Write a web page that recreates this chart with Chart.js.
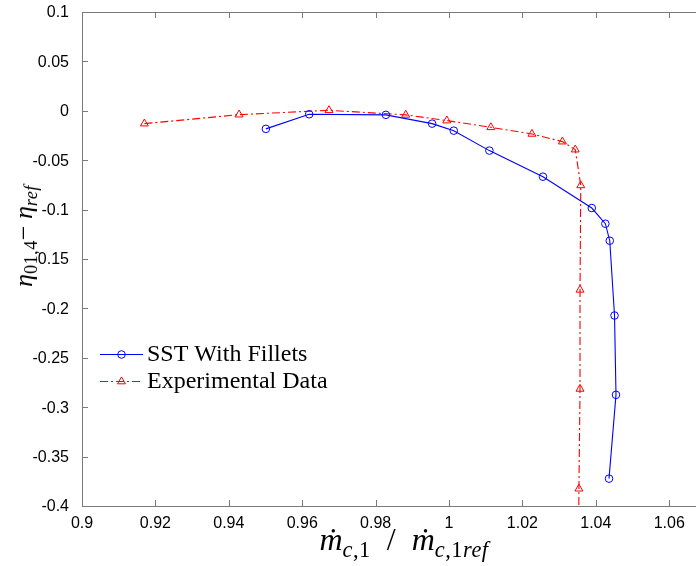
<!DOCTYPE html>
<html>
<head>
<meta charset="utf-8">
<script src="https://cdn.jsdelivr.net/npm/chart.js@4/dist/chart.umd.min.js"></script>
<style>
  html, body { margin: 0; padding: 0; background: #fff; }
  #wrap { position: relative; width: 696px; height: 566px; overflow: hidden; }
  #chart { position: absolute; left: 0; top: 0; }
  .ttl { position: absolute; font-family: "Liberation Serif", "DejaVu Serif", serif; color: #000; white-space: nowrap; line-height: 1; }
  .ttl sub { font-size: 70%; vertical-align: -0.3em; line-height: 0; letter-spacing: 0.5px; }
  #xtitle { left: 404px; top: 523px; font-size: 32px; transform: translateX(-50%); }
  #ytitle { left: 24px; top: 236px; font-size: 26px; transform: translate(-50%, -50%) rotate(-90deg); }
</style>
</head>
<body>
<div id="wrap">
  <canvas id="chart" width="696" height="566"></canvas>
  <div id="xtitle" class="ttl"><i>ṁ</i><sub><i>c</i>,1</sub>&nbsp;&nbsp;/&nbsp;&nbsp;<i>ṁ</i><sub><i>c</i>,1<i>ref</i></sub></div>
  <div id="ytitle" class="ttl"><i>η</i><sub>01,4</sub>− <i>η</i><sub><i>ref</i></sub></div>
</div>
<script>
// SST With Fillets (simulation)
const sstX = [0.9501, 0.9619, 0.9828, 0.9954, 1.0013, 1.0110, 1.0256, 1.0389, 1.0426, 1.0438, 1.0451, 1.0455, 1.0436];
const sstY = [-0.0183, -0.0035, -0.0041, -0.0130, -0.0201, -0.0403, -0.0667, -0.0984, -0.1143, -0.1315, -0.2072, -0.2875, -0.3723];
// Experimental data (last point lies below the visible range)
const expX = [0.9170, 0.9428, 0.9673, 0.9882, 0.9994, 1.0114, 1.0226, 1.0309, 1.0344, 1.0359, 1.0357, 1.0357, 1.0354, 1.0353];
const expY = [-0.0130, -0.0039, 0.0005, -0.0041, -0.0099, -0.0167, -0.0234, -0.0312, -0.0393, -0.0755, -0.1812, -0.2815, -0.3825, -0.4500];

const seriesLabels = ['SST With Fillets', 'Experimental Data'];
const xTicks = [0.9, 0.92, 0.94, 0.96, 0.98, 1, 1.02, 1.04, 1.06];
const yTicks = [0.1, 0.05, 0, -0.05, -0.1, -0.15, -0.2, -0.25, -0.3, -0.35, -0.4];
const xMin = 0.9, xMax = 1.0673;
const yMin = -0.4, yMax = 0.1;

const toPts = (xs, ys) => xs.map((x, i) => ({ x: x, y: ys[i] }));
const axisColor = '#7a7a7a';
const dashDot = [8, 3, 2, 3];

function drawMarker(ctx, style, x, y, r, color) {
    ctx.save();
    ctx.strokeStyle = color;
    ctx.lineWidth = 1;
    ctx.setLineDash([]);
    ctx.beginPath();
    if (style === 'circle') {
        ctx.arc(x, y, r, 0, Math.PI * 2);
    } else {
        for (let k = 0; k < 3; k++) {
            const a = k * 2 * Math.PI / 3;
            const px = x + Math.sin(a) * r, py = y - Math.cos(a) * r;
            if (k === 0) ctx.moveTo(px, py); else ctx.lineTo(px, py);
        }
        ctx.closePath();
    }
    ctx.stroke();
    ctx.restore();
}

// frame, inward ticks and the in-plot legend
const framePlugin = {
    id: 'frame',
    afterDraw(chart) {
        const ctx = chart.ctx;
        const a = chart.chartArea;
        const xs = chart.scales.x, ys = chart.scales.y;
        ctx.save();
        ctx.strokeStyle = axisColor;
        ctx.lineWidth = 1;
        ctx.beginPath();
        ctx.moveTo(a.left + 0.5, a.top + 0.5);
        ctx.lineTo(a.left + 0.5, a.bottom + 0.5);
        ctx.moveTo(a.left, a.bottom + 0.5);
        ctx.lineTo(chart.width, a.bottom + 0.5);
        ctx.moveTo(a.left, a.top + 0.5);
        ctx.lineTo(chart.width, a.top + 0.5);
        xTicks.forEach(v => {
            const px = Math.round(xs.getPixelForValue(v)) + 0.5;
            ctx.moveTo(px, a.bottom); ctx.lineTo(px, a.bottom - 6);
            ctx.moveTo(px, a.top); ctx.lineTo(px, a.top + 6);
        });
        yTicks.forEach(v => {
            const py = Math.round(ys.getPixelForValue(v)) + 0.5;
            ctx.moveTo(a.left, py); ctx.lineTo(a.left + 6, py);
        });
        ctx.stroke();

        // legend
        const lx = 100, lw = 43;
        const rows = [354, 381];
        chart.data.datasets.forEach((ds, i) => {
            const y = rows[i] + 0.5;
            ctx.strokeStyle = ds.borderColor;
            ctx.lineWidth = ds.borderWidth;
            ctx.setLineDash(ds.borderDash || []);
            ctx.beginPath();
            ctx.moveTo(lx, y); ctx.lineTo(lx + lw, y);
            ctx.stroke();
            drawMarker(ctx, ds.pointStyle, lx + lw / 2, y, ds.pointRadius, ds.borderColor);
            ctx.setLineDash([]);
            ctx.fillStyle = '#000';
            ctx.font = '24px "Liberation Serif", "DejaVu Serif", serif';
            ctx.textBaseline = 'alphabetic';
            ctx.textAlign = 'left';
            ctx.fillText(ds.label, lx + lw + 4, rows[i] + 7);
        });
        ctx.restore();
    }
};

const tickFont = { family: '"Liberation Sans", Arial, sans-serif', size: 16 };
const fmt = v => String(Math.round(v * 1000) / 1000);

new Chart(document.getElementById('chart'), {
    type: 'scatter',
    data: {
        datasets: [{
            label: seriesLabels[0],
            data: toPts(sstX, sstY),
            showLine: true,
            borderColor: '#0000ff',
            backgroundColor: 'rgba(0,0,0,0)',
            borderWidth: 1.1,
            pointStyle: 'circle',
            pointRadius: 3.8,
            pointBorderWidth: 1,
            tension: 0
        }, {
            label: seriesLabels[1],
            data: toPts(expX, expY),
            showLine: true,
            borderColor: '#ff0000',
            backgroundColor: 'rgba(0,0,0,0)',
            borderWidth: 1.1,
            borderDash: dashDot,
            pointStyle: 'triangle',
            pointRadius: 4.6,
            pointBorderWidth: 1,
            tension: 0
        }]
    },
    options: {
        responsive: false,
        animation: false,
        layout: { autoPadding: false, padding: { top: 12, right: 0, left: 0, bottom: 0 } },
        plugins: { legend: { display: false }, tooltip: { enabled: false } },
        scales: {
            x: {
                type: 'linear',
                min: xMin,
                max: xMax,
                afterFit: s => { s.height = 60; s.paddingLeft = 0; s.paddingRight = 0; },
                afterBuildTicks: s => { s.ticks = xTicks.map(v => ({ value: v })); },
                grid: { display: false },
                border: { display: false },
                ticks: { color: '#000', font: tickFont, padding: 0, maxRotation: 0, autoSkip: false, callback: fmt }
            },
            y: {
                type: 'linear',
                min: yMin,
                max: yMax,
                afterFit: s => { s.width = 82; s.paddingTop = 0; s.paddingBottom = 0; },
                afterBuildTicks: s => { s.ticks = yTicks.map(v => ({ value: v })); },
                grid: { display: false },
                border: { display: false },
                ticks: { color: '#000', font: tickFont, padding: 5, labelOffset: 1, autoSkip: false, callback: fmt }
            }
        }
    },
    plugins: [framePlugin]
});
</script>
</body>
</html>
